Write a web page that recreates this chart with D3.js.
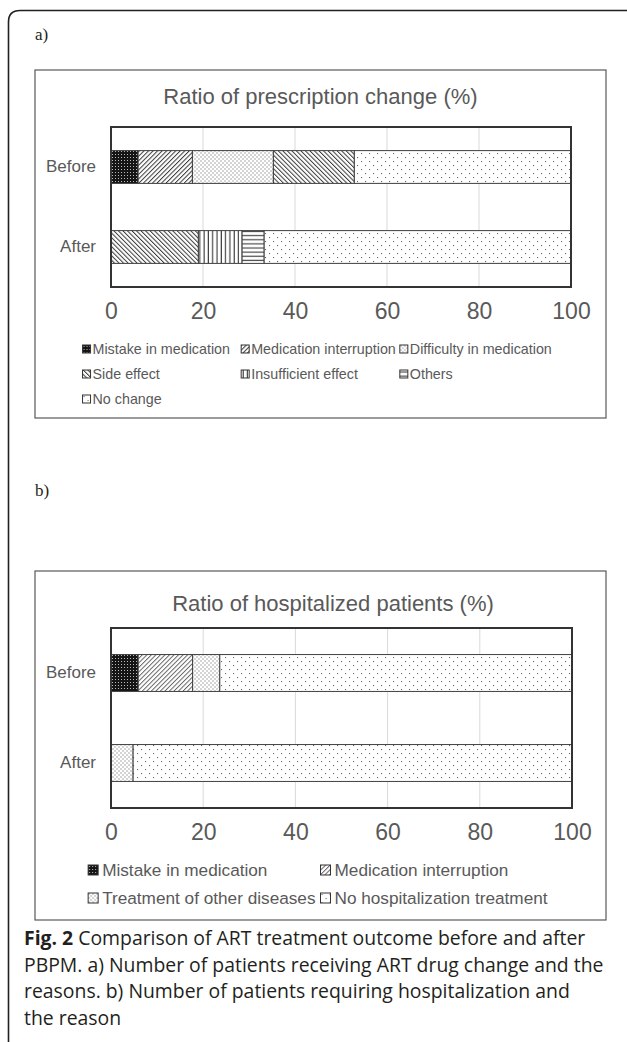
<!DOCTYPE html>
<html>
<head>
<meta charset="utf-8">
<script src="https://cdn.jsdelivr.net/npm/d3@7/dist/d3.min.js"></script>
<style>
  html, body { margin: 0; padding: 0; background: #fff; }
  svg { display: block; }
</style>
</head>
<body>
<svg id="fig" width="627" height="1042"></svg>
<script>
// ---------------- DATA ----------------
const categories = ["Before", "After"];
const tickValues = [0, 20, 40, 60, 80, 100];

const titleA = "Ratio of prescription change (%)";
const seriesA = ["Mistake in medication", "Medication interruption", "Difficulty in medication",
                 "Side effect", "Insufficient effect", "Others", "No change"];
const valuesABefore = [5.9, 11.8, 17.6, 17.6, 0, 0, 47.1];
const valuesAAfter  = [0, 0, 0, 19.0, 9.5, 4.8, 66.7];

const titleB = "Ratio of hospitalized patients (%)";
const seriesB = ["Mistake in medication", "Medication interruption",
                 "Treatment of other diseases", "No hospitalization treatment"];
const valuesBBefore = [5.9, 11.8, 5.9, 76.4];
const valuesBAfter  = [0, 0, 4.8, 95.2];

const captionBold = "Fig. 2";
const captionLines = [
  " Comparison of ART treatment outcome before and after",
  "PBPM. a) Number of patients receiving ART drug change and the",
  "reasons. b) Number of patients requiring hospitalization and",
  "the reason"
];

// ---------------- STYLE ----------------
const svg = d3.select("#fig");
const defs = svg.append("defs");
const textGray = "#595959";
const FONT = "'Liberation Sans', Arial, sans-serif";

function pat(id, w, h, transform) {
  const p = defs.append("pattern").attr("id", id)
    .attr("patternUnits", "userSpaceOnUse").attr("width", w).attr("height", h);
  if (transform) p.attr("patternTransform", transform);
  p.append("rect").attr("width", w).attr("height", h).attr("fill", "#fff");
  return p;
}
// dark with white dots
{ const p = defs.append("pattern").attr("id", "darkDots").attr("patternUnits", "userSpaceOnUse")
    .attr("width", 3).attr("height", 3);
  p.append("rect").attr("width", 3).attr("height", 3).attr("fill", "#151515");
  p.append("rect").attr("x", 1).attr("y", 1).attr("width", 1).attr("height", 1).attr("fill", "#bbb"); }
// forward diagonal "/"
{ const p = pat("fwdDiag", 3.2, 10, "rotate(45)");
  p.append("line").attr("x1", 0.5).attr("y1", 0).attr("x2", 0.5).attr("y2", 10)
    .attr("stroke", "#3a3a3a").attr("stroke-width", 1); }
{ const p = pat("fwdDiagLight", 3.2, 10, "rotate(45)");
  p.append("line").attr("x1", 0.5).attr("y1", 0).attr("x2", 0.5).attr("y2", 10)
    .attr("stroke", "#555").attr("stroke-width", 0.9); }
// backward diagonal "\"
{ const p = pat("bwdDiag", 3.2, 10, "rotate(-45)");
  p.append("line").attr("x1", 0.5).attr("y1", 0).attr("x2", 0.5).attr("y2", 10)
    .attr("stroke", "#3a3a3a").attr("stroke-width", 1); }
// small dense dots
{ const p = pat("smallDots", 4, 4);
  p.append("rect").attr("x", 0.5).attr("y", 0.5).attr("width", 1).attr("height", 1).attr("fill", "#555");
  p.append("rect").attr("x", 2.5).attr("y", 2.5).attr("width", 1).attr("height", 1).attr("fill", "#555"); }
// vertical lines
{ const p = pat("vertLines", 4.3, 10);
  p.append("line").attr("x1", 2).attr("y1", 0).attr("x2", 2).attr("y2", 10)
    .attr("stroke", "#333").attr("stroke-width", 1.1); }
// horizontal lines
{ const p = pat("horizLines", 10, 4.1);
  p.append("line").attr("x1", 0).attr("y1", 2).attr("x2", 10).attr("y2", 2)
    .attr("stroke", "#333").attr("stroke-width", 1.1); }
// sparse dots
{ const p = pat("sparseDots", 8, 8);
  p.append("rect").attr("x", 1).attr("y", 1).attr("width", 1.1).attr("height", 1.1).attr("fill", "#666");
  p.append("rect").attr("x", 5).attr("y", 5).attr("width", 1.1).attr("height", 1.1).attr("fill", "#666"); }

const patternMapA = ["darkDots", "fwdDiag", "smallDots", "bwdDiag", "vertLines", "horizLines", "sparseDots"];
const patternMapB = ["darkDots", "fwdDiagLight", "smallDots", "sparseDots"];

// ---------------- FRAME ----------------
svg.append("path")
  .attr("d", "M 627 10.5 L 20 10.5 Q 8.5 10.5 8.5 22 L 8.5 1042")
  .attr("fill", "none").attr("stroke", "#231f20").attr("stroke-width", 1.6);

svg.append("text").attr("x", 35).attr("y", 40).text("a)")
  .attr("font-family", "'Liberation Serif', 'Times New Roman', serif").attr("font-size", 17).attr("fill", "#231f20");
svg.append("text").attr("x", 35).attr("y", 496).text("b)")
  .attr("font-family", "'Liberation Serif', 'Times New Roman', serif").attr("font-size", 17).attr("fill", "#231f20");

// ---------------- CHART ----------------
function drawChart(cfg) {
  const g = svg.append("g");
  g.append("rect").attr("x", cfg.box[0]).attr("y", cfg.box[1])
    .attr("width", cfg.box[2] - cfg.box[0]).attr("height", cfg.box[3] - cfg.box[1])
    .attr("fill", "#fff").attr("stroke", "#595959").attr("stroke-width", 1.2);
  const boxCx = (cfg.box[0] + cfg.box[2]) / 2;

  g.append("text").attr("x", cfg.titleX).attr("y", cfg.titleY).attr("text-anchor", "middle")
    .attr("font-family", FONT).attr("font-size", cfg.titleSize).attr("fill", textGray).text(cfg.title);

  const x = d3.scaleLinear().domain([0, 100]).range([cfg.plot[0], cfg.plot[2]]);
  const y = d3.scaleBand().domain(categories).range([cfg.plot[1], cfg.plot[3]])
    .paddingInner(0.59).paddingOuter(0.295);

  g.append("g").selectAll("line").data(tickValues.slice(1, -1)).join("line")
    .attr("x1", d => x(d)).attr("x2", d => x(d))
    .attr("y1", cfg.plot[1]).attr("y2", cfg.plot[3])
    .attr("stroke", "#d9d9d9").attr("stroke-width", 1);

  const rows = categories.map((c, i) => {
    const r = { cat: c };
    cfg.series.forEach((s, j) => r[s] = cfg.values[i][j]);
    return r;
  });
  const stack = d3.stack().keys(cfg.series)(rows);
  stack.forEach((layer, j) => {
    g.append("g").selectAll("rect").data(layer.filter(d => d[1] - d[0] > 0)).join("rect")
      .attr("x", d => x(d[0])).attr("width", d => x(d[1]) - x(d[0]))
      .attr("y", d => y(d.data.cat)).attr("height", y.bandwidth())
      .attr("fill", `url(#${cfg.patterns[j]})`)
      .attr("stroke", "#404040").attr("stroke-width", 1);
  });

  g.append("rect").attr("x", cfg.plot[0]).attr("y", cfg.plot[1])
    .attr("width", cfg.plot[2] - cfg.plot[0]).attr("height", cfg.plot[3] - cfg.plot[1])
    .attr("fill", "none").attr("stroke", "#333").attr("stroke-width", 2);

  const xa = g.append("g").attr("transform", `translate(0,${cfg.plot[3]})`)
    .call(d3.axisBottom(x).tickValues(tickValues).tickSize(0).tickPadding(cfg.tickPad));
  xa.select(".domain").remove();
  xa.selectAll("text").attr("font-family", FONT).attr("font-size", cfg.tickSize).attr("fill", textGray);

  const ya = g.append("g").attr("transform", `translate(${cfg.plot[0]},0)`)
    .call(d3.axisLeft(y).tickSize(0).tickPadding(15));
  ya.select(".domain").remove();
  ya.selectAll("text").attr("font-family", FONT).attr("font-size", cfg.catSize).attr("fill", textGray);

  const lg = g.append("g");
  const items = cfg.series.map((s, j) => {
    const it = lg.append("g");
    it.append("rect").attr("width", cfg.mk).attr("height", cfg.mk)
      .attr("fill", `url(#${cfg.patterns[j]})`).attr("stroke", "#333").attr("stroke-width", 1);
    const t = it.append("text").attr("x", cfg.mk + cfg.mkGap).attr("y", cfg.mk / 2)
      .attr("dy", "0.36em").attr("font-family", FONT).attr("font-size", cfg.legSize)
      .attr("fill", textGray).text(s);
    return { it, w: cfg.mk + cfg.mkGap + t.node().getComputedTextLength() };
  });
  const colW = d3.max(items, d => d.w) + cfg.colPad;
  const startX = boxCx - cfg.nCols * colW / 2;
  items.forEach((d, j) => {
    const col = j % cfg.nCols, row = Math.floor(j / cfg.nCols);
    d.it.attr("transform", `translate(${startX + col * colW},${cfg.legY + row * cfg.legDy - cfg.mk / 2})`);
  });
}

drawChart({
  box: [35, 70, 606, 418], plot: [111, 127, 571, 287],
  title: titleA, titleX: 320.5, titleY: 104, titleSize: 22,
  series: seriesA, values: [valuesABefore, valuesAAfter], patterns: patternMapA,
  tickSize: 23, tickPad: 16, catSize: 17,
  legY: 349, legDy: 25, legSize: 14.3, mk: 8, mkGap: 2, colPad: 4, nCols: 3
});

drawChart({
  box: [35, 571, 606, 920], plot: [111, 628, 572, 808],
  title: titleB, titleX: 333, titleY: 611, titleSize: 22,
  series: seriesB, values: [valuesBBefore, valuesBAfter], patterns: patternMapB,
  tickSize: 23, tickPad: 16, catSize: 17,
  legY: 870, legDy: 28, legSize: 17.2, mk: 10, mkGap: 4, colPad: 5, nCols: 2
});

// ---------------- CAPTION ----------------
const cap = svg.append("g").attr("font-family", "'Open Sans', 'Noto Sans', sans-serif")
  .attr("font-size", 19.4).attr("fill", "#231f20");
captionLines.forEach((line, i) => {
  const t = cap.append("text").attr("x", 24).attr("y", 945 + i * 26.7);
  if (i === 0) t.append("tspan").attr("font-weight", "bold").text(captionBold);
  t.append("tspan").text(line);
});
</script>
</body>
</html>
